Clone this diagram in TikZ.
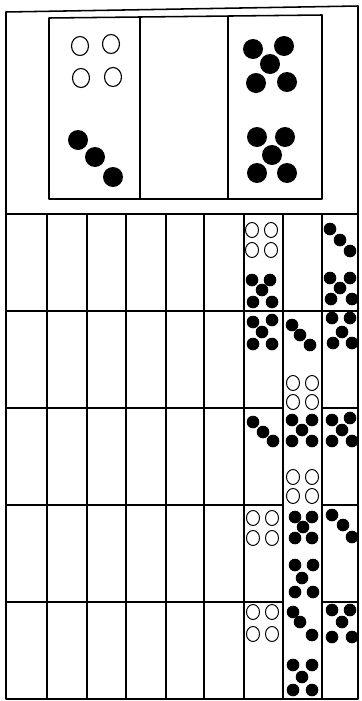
\documentclass[tikz,border=0pt]{standalone}
\begin{document}
\begin{tikzpicture}[x=0.05cm,y=-0.05cm,
  grid/.style={line width=2.2pt, line cap=round, line join=round},
  bighole/.style={draw, line width=1.6pt},
  hole/.style={draw, line width=1.4pt},
  ball/.style={fill=black}]
\useasboundingbox (0,0) rectangle (362,701);
% outer frame
\draw[grid] (6,12) -- (358,6) -- (358,699) -- (6,699) -- cycle;
% inner top rectangle
\draw[grid] (49,18) -- (322,15) -- (322,199) -- (49,199) -- cycle;
\draw[grid] (140,17) -- (140,199);
\draw[grid] (228,16) -- (228,199);
% grid rows
\draw[grid] (6,214) -- (358,214);
\draw[grid] (6,311) -- (358,311);
\foreach \yy in {408,505,602}{
  \draw[grid] (6,\yy) -- (283,\yy);
  \draw[grid] (322,\yy) -- (358,\yy);
}
\foreach \xx in {47,87,126,166,204,244,283,322}{
  \draw[grid] (\xx,214) -- (\xx,699);
}
% top panel: open circles
\foreach \p in {(80,46),(111,44),(81,78),(113,77)}{
  \draw[bighole] \p ellipse (8.5 and 9.5);
}
% top panel: filled balls
\foreach \p in {(78,140),(95,157),(113,177),
                (253,49),(284,46),(270,64),(256,83),(287,82),
                (257,137),(285,137),(272,155),(257,173),(287,173)}{
  \fill[ball] \p circle (10);
}
% lower grid: open circles
\foreach \p in {(252,230),(271,230),(252,250),(271,250),
                (293,383),(312,383),(293,402),(312,402),
                (293,477),(312,477),(293,496),(312,496),
                (253,518),(272,518),(253,538),(272,538),
                (253,612),(272,612),(253,634),(272,634)}{
  \draw[hole] \p ellipse (6.5 and 7.5);
}
% lower grid: filled balls
\foreach \p in {% row 1
                (252,280),(270,280),(262,290),(253,302),(272,302),
                (330,229),(340,240),(350,251),
                (330,278),(350,278),(340,288),(331,299),(352,299),
                % row 2
                (253,322),(272,320),(262,332),(253,344),(272,344),
                (292,325),(300,335),(310,345),
                (332,318),(350,318),(342,332),(333,343),(352,343),
                % row 3
                (253,422),(263,432),(273,441),
                (292,420),(312,420),(302,430),(292,441),(312,441),
                (332,420),(350,418),(342,430),(332,441),(352,441),
                % row 4
                (295,517),(312,517),(303,527),(295,538),(312,538),
                (295,565),(313,565),(302,578),(295,592),(313,592),
                (332,515),(343,525),(352,537),
                % row 5
                (293,612),(300,622),(312,635),
                (293,665),(312,665),(302,677),(293,690),(312,690),
                (332,610),(350,610),(342,622),(332,637),(352,637)}{
  \fill[ball] \p circle (6.3);
}
\end{tikzpicture}
\end{document}
